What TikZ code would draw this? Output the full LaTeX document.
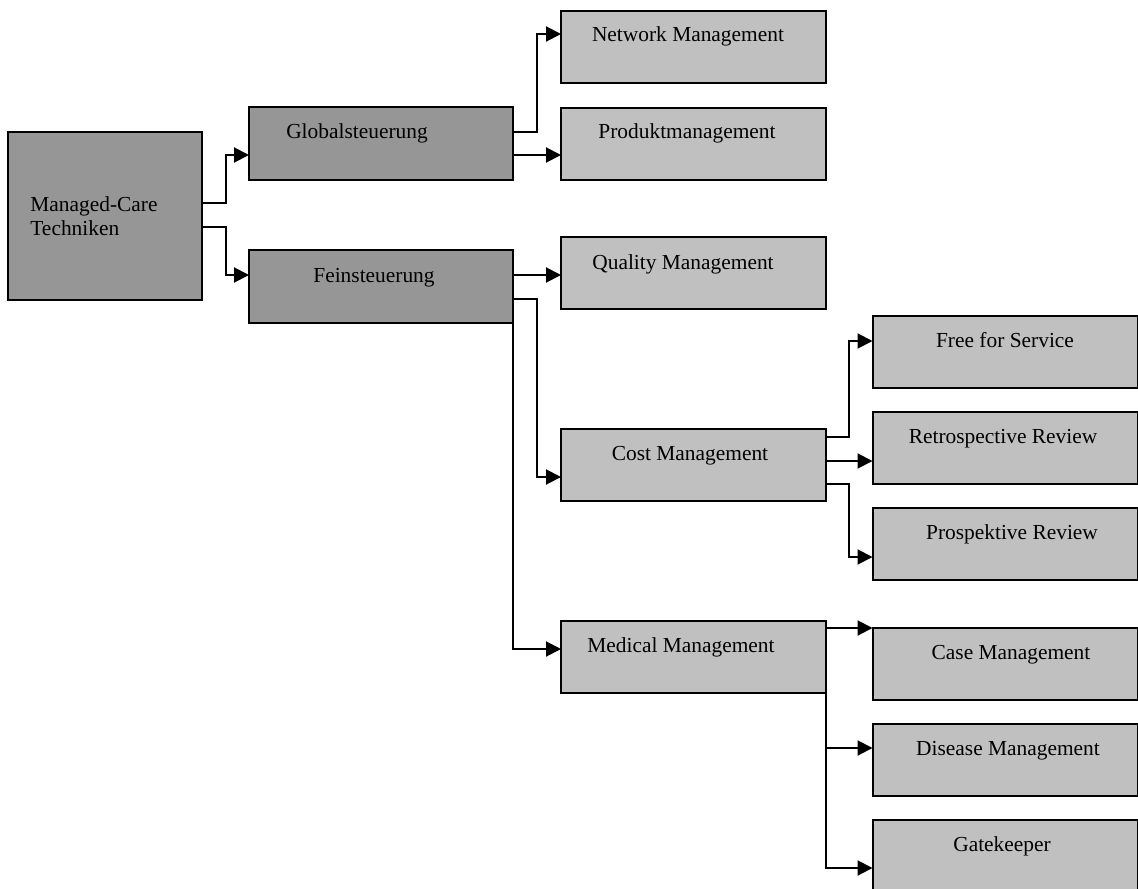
\documentclass[tikz,border=0pt]{standalone}
\usepackage{fontspec}
\setmainfont{Liberation Serif}
\usetikzlibrary{arrows.meta}
\definecolor{darkbox}{HTML}{969696}
\definecolor{lightbox}{HTML}{C0C0C0}
\begin{document}
\begin{tikzpicture}[x=0.5pt,y=-0.5pt,
  boxbase/.style={draw=black,line width=1pt,inner sep=0pt,outer sep=0pt,rectangle},
  darkb/.style={boxbase,fill=darkbox,minimum width=132pt,minimum height=36.5pt},
  lightb/.style={boxbase,fill=lightbox,minimum width=132.5pt,minimum height=36pt},
  txt/.style={font=\fontsize{10.7pt}{12.8pt}\selectfont,inner sep=0pt,anchor=base},
  conn/.style={draw=black,line width=1pt},
  arr/.style={conn,-{Triangle[length=7.5pt,width=7.5pt]}}]
\useasboundingbox (0,0) rectangle (1138,888);
% boxes
\node[boxbase,fill=darkbox,minimum width=97pt,minimum height=84pt] (root) at (105,216) {};
\node[darkb] (glob) at (381,143.5) {};
\node[darkb] (fein) at (381,286.5) {};
\node[lightb] (net) at (693.5,47.5) {};
\node[lightb] (prod) at (693.5,144) {};
\node[lightb] (qual) at (693.5,272.5) {};
\node[lightb] (cost) at (693.5,465) {};
\node[lightb] (med) at (693.5,657) {};
\node[lightb] (free) at (1005,352) {};
\node[lightb] (retro) at (1005,448) {};
\node[lightb] (prosp) at (1005,544) {};
\node[lightb] (case) at (1005,664) {};
\node[lightb] (dis) at (1005,760) {};
\node[lightb] (gate) at (1005,856) {};
% texts
\node[txt,anchor=base west] (troot1) at (30,211) {Managed-Care};
\node[txt,anchor=base west] (troot2) at (30,235) {Techniken};
\node[txt] (tglob) at (357,138) {Globalsteuerung};
\node[txt] (tfein) at (374,282) {Feinsteuerung};
\node[txt] (tnet) at (688,42) {Network Management};
\node[txt] (tprod) at (687,138) {Produktmanagement};
\node[txt] (tqual) at (683,269) {Quality Management};
\node[txt] (tcost) at (690,460) {Cost Management};
\node[txt] (tmed) at (681,652) {Medical Management};
\node[txt] (tfree) at (1005,347) {Free for Service};
\node[txt] (tretro) at (1003,443) {Retrospective Review};
\node[txt] (tprosp) at (1012,539) {Prospektive Review};
\node[txt] (tcase) at (1011,659) {Case Management};
\node[txt] (tdis) at (1008,755) {Disease Management};
\node[txt] (tgate) at (1002,851) {Gatekeeper};
% connectors
\draw[arr] (root.east |- 0,203) -- (226,203) |- (glob.west |- 0,155);
\draw[arr] (root.east |- 0,227) -- (226,227) |- (fein.west |- 0,275);
\draw[arr] (glob.east |- 0,132) -- (537,132) |- (net.west |- 0,34);
\draw[arr] (glob.east |- 0,155) -- (prod.west |- 0,155);
\draw[arr] (fein.east |- 0,275) -- (qual.west |- 0,275);
\draw[arr] (fein.east |- 0,299) -- (537,299) |- (cost.west |- 0,477);
\draw[arr] (fein.south east) |- (med.west |- 0,649);
\draw[arr] (cost.east |- 0,437) -- (849,437) |- (free.west |- 0,341);
\draw[arr] (cost.east |- 0,461) -- (retro.west |- 0,461);
\draw[arr] (cost.east |- 0,484) -- (849,484) |- (prosp.west |- 0,557);
\draw[arr] (med.east |- 0,628) -- (case.north west);
\draw[conn] (med.east |- 0,677) -- (826,748);
\draw[arr] (826,748) -- (dis.west |- 0,748);
\draw[arr] (826,748) |- (gate.west |- 0,868);
\end{tikzpicture}
\end{document}
